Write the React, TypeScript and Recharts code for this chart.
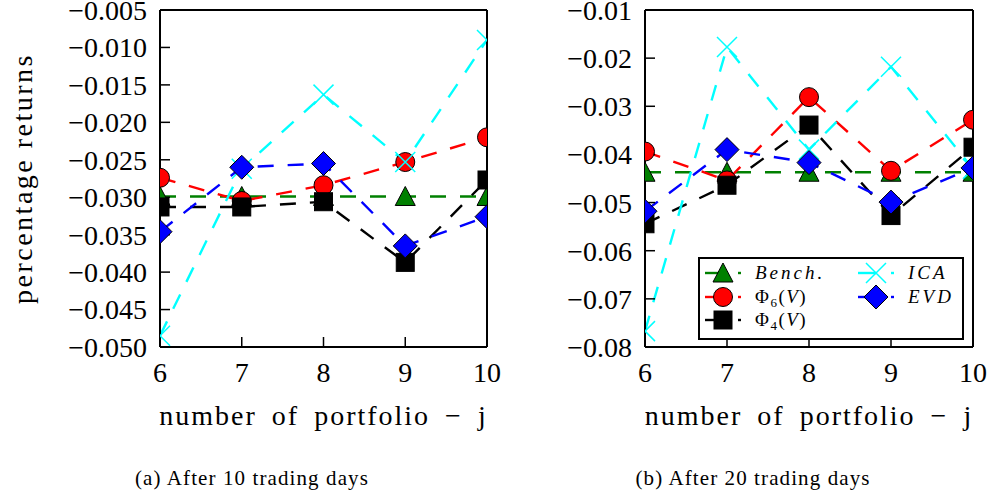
import React from 'react';
import { LineChart, Line, XAxis, YAxis, Legend } from 'recharts';

const portfolios = [6, 7, 8, 9, 10];
const xTicks = [6, 7, 8, 9, 10];

// After 10 trading days
const bench10 = [-0.0299, -0.0299, -0.0299, -0.0299, -0.0299];
const phi6_10 = [-0.0274, -0.0305, -0.0284, -0.0253, -0.022];
const phi4_10 = [-0.0313, -0.0313, -0.0306, -0.0387, -0.0277];
const ica10 = [-0.0485, -0.0262, -0.0163, -0.0253, -0.009];
const evd10 = [-0.0346, -0.026, -0.0255, -0.0365, -0.0326];

// After 20 trading days
const bench20 = [-0.0437, -0.0437, -0.0437, -0.0437, -0.0437];
const phi6_20 = [-0.0394, -0.0454, -0.0281, -0.0434, -0.0328];
const phi4_20 = [-0.0544, -0.0464, -0.0339, -0.0527, -0.0385];
const ica20 = [-0.0767, -0.0177, -0.039, -0.0218, -0.043];
const evd20 = [-0.0518, -0.039, -0.0417, -0.0499, -0.0428];

const yTicks10 = [-0.05, -0.045, -0.04, -0.035, -0.03, -0.025, -0.02, -0.015, -0.01, -0.005];
const yTicks20 = [-0.08, -0.07, -0.06, -0.05, -0.04, -0.03, -0.02, -0.01];

const xLabel = 'number of portfolio \u2212 j';
const yLabel = 'percentage returns';
const captionA = '(a) After 10 trading days';
const captionB = '(b) After 20 trading days';

const FONT = '"Liberation Serif", "Times New Roman", serif';

type Marker = 'triangle' | 'circle' | 'square' | 'x' | 'diamond';
const series: { key: string; color: string; marker: Marker }[] = [
  { key: 'bench', color: '#008000', marker: 'triangle' },
  { key: 'phi6', color: '#ff0000', marker: 'circle' },
  { key: 'phi4', color: '#000000', marker: 'square' },
  { key: 'ica', color: '#00ffff', marker: 'x' },
  { key: 'evd', color: '#0000ff', marker: 'diamond' },
];

function buildRows(b: number[], p6: number[], p4: number[], ica: number[], evd: number[]) {
  return portfolios.map((j, i) => ({ j, bench: b[i], phi6: p6[i], phi4: p4[i], ica: ica[i], evd: evd[i] }));
}
const rows10 = buildRows(bench10, phi6_10, phi4_10, ica10, evd10);
const rows20 = buildRows(bench20, phi6_20, phi4_20, ica20, evd20);

function markerShape(marker: Marker, color: string, cx: number, cy: number, key?: string) {
  switch (marker) {
    case 'triangle':
      return (
        <polygon key={key} points={`${cx},${cy - 10} ${cx - 10},${cy + 9} ${cx + 10},${cy + 9}`} fill={color} stroke="#000" strokeWidth={1} />
      );
    case 'circle':
      return <circle key={key} cx={cx} cy={cy} r={9.5} fill={color} stroke="#000" strokeWidth={1} />;
    case 'square':
      return <rect key={key} x={cx - 9} y={cy - 9} width={18} height={18} fill={color} stroke="#000" strokeWidth={1} />;
    case 'diamond':
      return (
        <polygon key={key} points={`${cx},${cy - 12} ${cx + 12},${cy} ${cx},${cy + 12} ${cx - 12},${cy}`} fill={color} stroke="#000" strokeWidth={1} />
      );
    case 'x':
    default:
      return (
        <path key={key} d={`M${cx - 10},${cy - 10}L${cx + 10},${cy + 10}M${cx - 10},${cy + 10}L${cx + 10},${cy - 10}`} stroke={color} strokeWidth={1.5} fill="none" />
      );
  }
}

const makeDot = (marker: Marker, color: string) => (props: any) => {
  const { cx, cy, index } = props;
  if (cx == null || cy == null) return <g key={`e-${index}`} />;
  return markerShape(marker, color, cx, cy, `m-${marker}-${index}`);
};

const fmt = (d: number) => (v: number) => '\u2212' + Math.abs(v).toFixed(d);

const tickStyle = { fontSize: 28, fill: '#000', fontFamily: FONT };

function LegendBox() {
  const rowsY = [16, 40, 63];
  const textStyle: React.CSSProperties = { fontFamily: FONT, fontSize: 19, fontStyle: 'italic', letterSpacing: 3 };
  const entry = (x0: number, y: number, s: (typeof series)[number]) => (
    <g key={s.key}>
      <line x1={x0} y1={y} x2={x0 + 18} y2={y} stroke={s.color} strokeWidth={2.4} />
      <line x1={x0 + 33} y1={y} x2={x0 + 36} y2={y} stroke={s.color} strokeWidth={2.4} />
      {markerShape(s.marker, s.color, x0 + 18, y)}
    </g>
  );
  return (
    <svg width={266} height={83} style={{ display: 'block' }}>
      <rect x={1} y={1} width={264} height={81} fill="#fff" stroke="#000" strokeWidth={2} />
      {entry(7, rowsY[0], series[0])}
      {entry(7, rowsY[1], series[1])}
      {entry(7, rowsY[2], series[2])}
      {entry(160, rowsY[0], series[3])}
      {entry(160, rowsY[1], series[4])}
      <text x={57} y={rowsY[0] + 6} style={textStyle}>Bench.</text>
      <text x={57} y={rowsY[1] + 6} style={{ ...textStyle, fontStyle: 'normal', letterSpacing: 1.5 }}>
        {'\u03A6'}
        <tspan fontSize={13} dy={4}>6</tspan>
        <tspan dy={-4}>(</tspan>
        <tspan fontStyle="italic">V</tspan>
        <tspan>)</tspan>
      </text>
      <text x={57} y={rowsY[2] + 6} style={{ ...textStyle, fontStyle: 'normal', letterSpacing: 1.5 }}>
        {'\u03A6'}
        <tspan fontSize={13} dy={4}>4</tspan>
        <tspan dy={-4}>(</tspan>
        <tspan fontStyle="italic">V</tspan>
        <tspan>)</tspan>
      </text>
      <text x={210} y={rowsY[0] + 6} style={textStyle}>ICA</text>
      <text x={210} y={rowsY[1] + 6} style={textStyle}>EVD</text>
    </svg>
  );
}

function Panel(props: {
  rows: any[];
  yTicks: number[];
  decimals: number;
  width: number;
  leftWidth: number;
  rightWidth: number;
  showYLabel: boolean;
  showLegend: boolean;
}) {
  const { rows, yTicks, decimals, width, leftWidth, rightWidth, showYLabel, showLegend } = props;
  const domain: [number, number] = [yTicks[0], yTicks[yTicks.length - 1]];
  return (
    <LineChart width={width} height={440} data={rows} margin={{ top: 0, right: 0, bottom: 0, left: 0 }}>
      <XAxis
        xAxisId="b"
        dataKey="j"
        type="number"
        domain={[6, 10]}
        ticks={xTicks}
        allowDataOverflow
        height={93}
        tickSize={-10}
        tickMargin={25}
        axisLine={{ stroke: '#000', strokeWidth: 2 }}
        tickLine={{ stroke: '#000', strokeWidth: 1.5 }}
        tick={tickStyle}
        interval={0}
        label={{
          value: xLabel,
          position: 'insideBottom',
          offset: 15,
          style: { fontSize: 28, fill: '#000', fontFamily: FONT, letterSpacing: 2, wordSpacing: 6 },
        }}
      />
      <XAxis
        xAxisId="t"
        orientation="top"
        dataKey="j"
        type="number"
        domain={[6, 10]}
        ticks={xTicks}
        allowDataOverflow
        height={10}
        tickSize={-10}
        axisLine={{ stroke: '#000', strokeWidth: 2 }}
        tickLine={{ stroke: '#000', strokeWidth: 1.5 }}
        tick={false}
        interval={0}
      />
      <YAxis
        yAxisId="l"
        type="number"
        domain={domain}
        ticks={yTicks}
        allowDataOverflow
        width={leftWidth}
        tickSize={-10}
        tickMargin={23}
        axisLine={{ stroke: '#000', strokeWidth: 2 }}
        tickLine={{ stroke: '#000', strokeWidth: 1.5 }}
        tick={tickStyle}
        tickFormatter={fmt(decimals)}
        interval={0}
        label={
          showYLabel
            ? {
                value: yLabel,
                angle: -90,
                position: 'insideLeft',
                offset: 22,
                style: { fontSize: 28, fill: '#000', fontFamily: FONT, letterSpacing: 2.5, textAnchor: 'middle' },
              }
            : undefined
        }
      />
      <YAxis
        yAxisId="r"
        orientation="right"
        type="number"
        domain={domain}
        ticks={yTicks}
        allowDataOverflow
        width={rightWidth}
        tickSize={-10}
        axisLine={{ stroke: '#000', strokeWidth: 2 }}
        tickLine={{ stroke: '#000', strokeWidth: 1.5 }}
        tick={false}
        interval={0}
      />
      {series.map((s) => (
        <Line
          key={s.key}
          xAxisId="b"
          yAxisId="l"
          type="linear"
          dataKey={s.key}
          stroke={s.color}
          strokeWidth={2.4}
          strokeDasharray="16 14"
          dot={makeDot(s.marker, s.color)}
          activeDot={false}
          isAnimationActive={false}
        />
      ))}
      {showLegend && (
        <Legend
          layout="horizontal"
          verticalAlign="middle"
          align="center"
          wrapperStyle={{ left: 202, top: 257, width: 266, height: 83 }}
          content={() => <LegendBox />}
        />
      )}
    </LineChart>
  );
}

const captionStyle: React.CSSProperties = {
  position: 'absolute',
  top: 468,
  width: 496,
  textAlign: 'center',
  fontFamily: FONT,
  fontSize: 21,
  letterSpacing: 1.1,
  lineHeight: 1,
  color: '#000',
  whiteSpace: 'nowrap',
};

export default function App() {
  return (
    <div style={{ position: 'absolute', left: 0, top: 0, width: 992, height: 499, background: '#fff', overflow: 'hidden' }}>
      <div style={{ position: 'absolute', left: 0, top: 0 }}>
        <Panel rows={rows10} yTicks={yTicks10} decimals={3} width={520} leftWidth={160} rightWidth={33} showYLabel showLegend={false} />
      </div>
      <div style={{ position: 'absolute', left: 496, top: 0 }}>
        <Panel rows={rows20} yTicks={yTicks20} decimals={2} width={496} leftWidth={149} rightWidth={19} showYLabel={false} showLegend />
      </div>
      <div style={{ ...captionStyle, left: 4 }}>{captionA}</div>
      <div style={{ ...captionStyle, left: 505 }}>{captionB}</div>
    </div>
  );
}
